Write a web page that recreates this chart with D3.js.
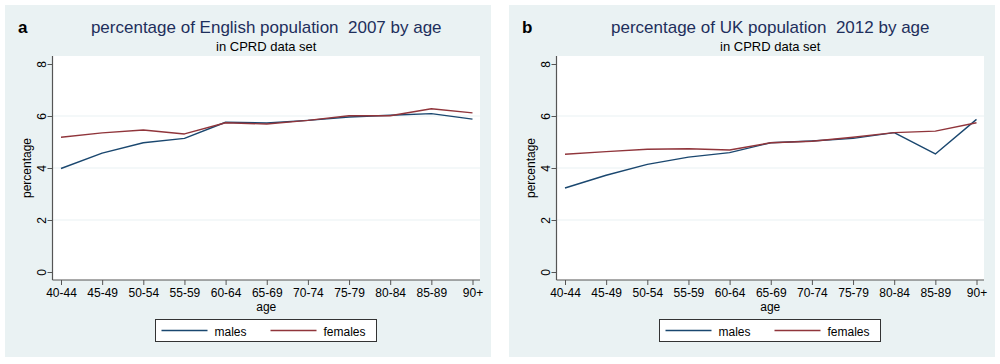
<!DOCTYPE html>
<html>
<head>
<meta charset="utf-8">
<script src="https://cdn.jsdelivr.net/npm/d3@7"></script>
<style>
  body { margin: 0; background: #fff; }
  text { font-family: "Liberation Sans", Arial, sans-serif; }
</style>
</head>
<body>
<svg id="chart" width="1000" height="364"></svg>
<script>
// age groups on the x axis
var ages = ["40-44","45-49","50-54","55-59","60-64","65-69","70-74","75-79","80-84","85-89","90+"];
var yTicks = [0, 2, 4, 6, 8];

// panel a: English population 2007
var malesA   = [3.98, 4.57, 4.97, 5.14, 5.76, 5.73, 5.83, 5.96, 6.03, 6.09, 5.88];
var femalesA = [5.18, 5.35, 5.46, 5.31, 5.74, 5.69, 5.83, 6.01, 6.01, 6.28, 6.12];

// panel b: UK population 2012
var malesB   = [3.23, 3.72, 4.14, 4.42, 4.59, 4.97, 5.04, 5.14, 5.36, 4.54, 5.87];
var femalesB = [4.53, 4.63, 4.72, 4.74, 4.69, 4.97, 5.03, 5.18, 5.36, 5.42, 5.74];

var panels = [
  {letter: "a", title: "percentage of English population\u00a0\u00a02007 by age", males: malesA, females: femalesA, dx: 0},
  {letter: "b", title: "percentage of UK population\u00a0\u00a02012 by age", males: malesB, females: femalesB, dx: 504}
];

var svg = d3.select("#chart");
var bg = "#eaf2f3", navy = "#1a476f", maroon = "#90353b";

var plotLeft = 52.5, plotRight = 480, plotTop = 56, plotBottom = 280;

var x = d3.scalePoint().domain(ages).range([61, 472.5]);
var y = d3.scaleLinear().domain([0, 8]).range([272, 64]);

var line = d3.line()
    .x(function(d, i) { return x(ages[i]); })
    .y(function(d) { return y(d); });

panels.forEach(function(p) {
  var g = svg.append("g").attr("transform", "translate(" + p.dx + ",0)");

  g.append("rect")
    .attr("x", 5).attr("y", 5).attr("width", 486).attr("height", 352)
    .attr("fill", bg);

  g.append("rect")
    .attr("x", plotLeft).attr("y", plotTop)
    .attr("width", plotRight - plotLeft).attr("height", plotBottom - plotTop)
    .attr("fill", "#fff");

  // gridlines
  g.selectAll(".grid").data([2, 4, 6]).enter().append("line")
    .attr("x1", plotLeft).attr("x2", plotRight)
    .attr("y1", function(d) { return y(d); }).attr("y2", function(d) { return y(d); })
    .attr("stroke", bg).attr("stroke-width", 1.2);

  // titles
  g.append("text").attr("x", 18).attr("y", 33)
    .attr("font-size", 17).attr("font-weight", "bold").attr("fill", "#000")
    .text(p.letter);
  g.append("text").attr("x", (plotLeft + plotRight) / 2).attr("y", 33)
    .attr("text-anchor", "middle").attr("font-size", 17).attr("fill", "#1e2f5c")
    .text(p.title);
  g.append("text").attr("x", (plotLeft + plotRight) / 2).attr("y", 51)
    .attr("text-anchor", "middle").attr("font-size", 13).attr("fill", "#000")
    .text("in CPRD data set");

  // y axis
  var ya = g.append("g").attr("transform", "translate(" + plotLeft + ",0)")
    .call(d3.axisLeft(y).tickValues(yTicks).tickSize(5).tickPadding(4));
  ya.select(".domain").remove();
  ya.selectAll(".tick line").attr("stroke", "#555");
  ya.selectAll(".tick text")
    .attr("font-size", 12).attr("fill", "#000")
    .attr("transform", "rotate(-90)")
    .attr("x", 0).attr("y", -7).attr("dy", 0)
    .attr("text-anchor", "middle");
  g.append("line")
    .attr("x1", plotLeft).attr("x2", plotLeft).attr("y1", plotTop).attr("y2", plotBottom)
    .attr("stroke", "#555").attr("stroke-width", 1.2);

  // x axis
  var xa = g.append("g").attr("transform", "translate(0," + plotBottom + ")")
    .call(d3.axisBottom(x).tickSize(5).tickPadding(3));
  xa.select(".domain").remove();
  xa.selectAll(".tick line").attr("stroke", "#555");
  xa.selectAll(".tick text").attr("font-size", 12).attr("fill", "#000");
  g.append("line")
    .attr("x1", plotLeft).attr("x2", plotRight).attr("y1", plotBottom).attr("y2", plotBottom)
    .attr("stroke", "#555").attr("stroke-width", 1.2);

  g.append("text")
    .attr("transform", "translate(31," + ((plotTop + plotBottom) / 2 + 0) + ") rotate(-90)")
    .attr("text-anchor", "middle").attr("font-size", 12).attr("fill", "#000")
    .text("percentage");
  g.append("text").attr("x", (plotLeft + plotRight) / 2 + 0).attr("y", 311)
    .attr("text-anchor", "middle").attr("font-size", 12).attr("fill", "#000")
    .text("age");

  // series
  [{v: p.males, c: navy}, {v: p.females, c: maroon}].forEach(function(s) {
    g.append("path")
      .datum(s.v)
      .attr("fill", "none")
      .attr("stroke", s.c)
      .attr("stroke-width", 1.4)
      .attr("stroke-linejoin", "round")
      .attr("d", line);
  });

  // legend
  var lg = g.append("g").attr("transform", "translate(155.5,319.5)");
  lg.append("rect").attr("width", 221).attr("height", 22)
    .attr("fill", "#fff").attr("stroke", "#333").attr("stroke-width", 1);
  [{name: "males", c: navy, x: 6}, {name: "females", c: maroon, x: 115}].forEach(function(it) {
    lg.append("line").attr("x1", it.x).attr("x2", it.x + 46).attr("y1", 11).attr("y2", 11)
      .attr("stroke", it.c).attr("stroke-width", 1.4);
    lg.append("text").attr("x", it.x + 53).attr("y", 16)
      .attr("font-size", 12).attr("fill", "#000").text(it.name);
  });
});
</script>
</body>
</html>
